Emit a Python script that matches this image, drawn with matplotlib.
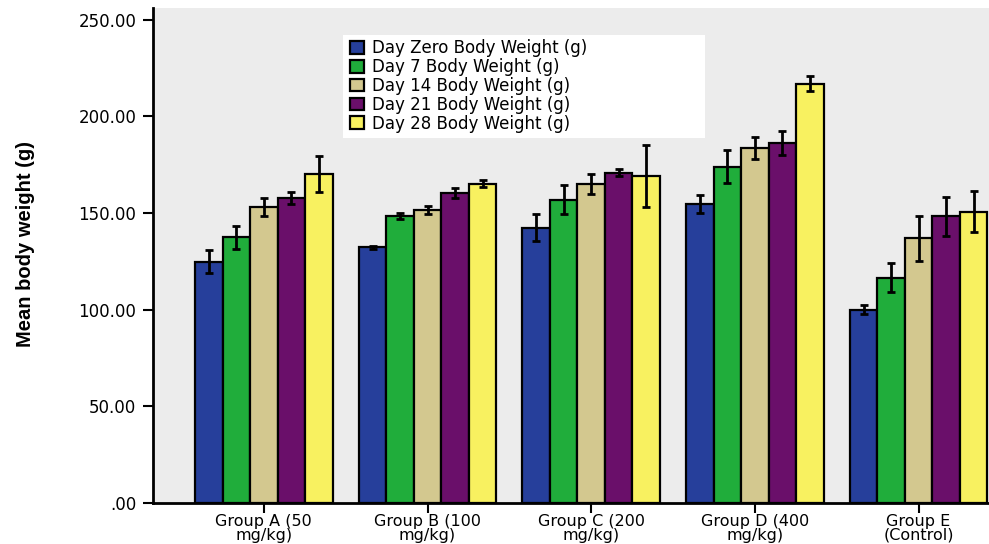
import matplotlib

matplotlib.use("Agg")
import matplotlib.pyplot as plt
from matplotlib.patches import Rectangle
import numpy as np

GROUPS = [
    "Group A (50\nmg/kg)",
    "Group B (100\nmg/kg)",
    "Group C (200\nmg/kg)",
    "Group D (400\nmg/kg)",
    "Group E\n(Control)",
]
SERIES = [
    "Day Zero Body Weight (g)",
    "Day 7 Body Weight (g)",
    "Day 14 Body Weight (g)",
    "Day 21 Body Weight (g)",
    "Day 28 Body Weight (g)",
]
COLORS = ["#263f9b", "#20ad3b", "#d3c88f", "#6a0f6a", "#f8f160"]

# mean body weight per series (rows) and group (columns)
MEANS = [
    [124.8, 132.2, 142.3, 154.6, 100.0],
    [137.5, 148.5, 156.9, 174.0, 116.5],
    [153.0, 151.5, 165.0, 183.6, 136.8],
    [157.8, 160.4, 170.8, 186.2, 148.3],
    [170.2, 165.2, 169.0, 216.9, 150.6],
]
ERRORS = [
    [6.0, 0.6, 6.9, 4.7, 2.5],
    [6.0, 1.6, 7.5, 8.6, 7.5],
    [4.6, 2.2, 5.0, 5.7, 11.6],
    [3.0, 2.5, 1.8, 6.0, 10.0],
    [9.5, 2.0, 16.0, 4.0, 10.7],
]
YTICKS = [0, 50, 100, 150, 200, 250]
YTICK_LABELS = [".00", "50.00", "100.00", "150.00", "200.00", "250.00"]

fig = plt.figure(figsize=(9.89, 5.44), dpi=100)
ax = fig.add_axes([0.1547, 0.0754, 0.8453, 0.9099])
ax.set_facecolor("#ececec")

x = np.arange(len(GROUPS))
w = 0.168
for j, (name, color) in enumerate(zip(SERIES, COLORS)):
    ax.bar(
        x + (j - 2) * w,
        MEANS[j],
        width=w,
        color=color,
        edgecolor="black",
        linewidth=1.6,
        label=name,
        zorder=2,
    )
    ax.errorbar(
        x + (j - 2) * w,
        MEANS[j],
        yerr=ERRORS[j],
        fmt="none",
        ecolor="black",
        elinewidth=2,
        capsize=3,
        capthick=2,
        zorder=3,
    )

ax.set_xlim(-0.677, 4.43)
ax.set_ylim(0, 256)
ax.set_yticks(YTICKS, YTICK_LABELS, fontsize=12, family="DejaVu Sans")
ax.set_xticks(x, GROUPS, fontsize=11.5, family="DejaVu Sans", linespacing=0.9)
ax.tick_params(axis="both", direction="out", length=7, width=1.5, color="black")
ax.tick_params(axis="y", pad=5)
ax.tick_params(axis="x", pad=1)

for spine in ("top", "right"):
    ax.spines[spine].set_visible(False)
for spine in ("left", "bottom"):
    ax.spines[spine].set_linewidth(2)

ax.set_ylabel(
    "Mean body weight (g)",
    fontsize=14.5,
    fontweight="bold",
    family=["Liberation Sans", "DejaVu Sans"],
)
ax.yaxis.set_label_coords(-0.141, 0.523)

# white panel behind the legend entries
ax.add_patch(
    Rectangle(
        (0.227, 0.737), 0.433, 0.208,
        transform=ax.transAxes, facecolor="white", edgecolor="none", zorder=4,
    )
)
leg = ax.legend(
    loc="upper left",
    bbox_to_anchor=(0.236, 0.937),
    borderaxespad=0,
    frameon=False,
    handlelength=0.8,
    handleheight=0.8,
    handletextpad=0.5,
    labelspacing=0.05,
    borderpad=0,
    prop={"family": "DejaVu Sans", "size": 12},
)
leg.set_zorder(5)

fig.savefig("out.png", dpi=100)
